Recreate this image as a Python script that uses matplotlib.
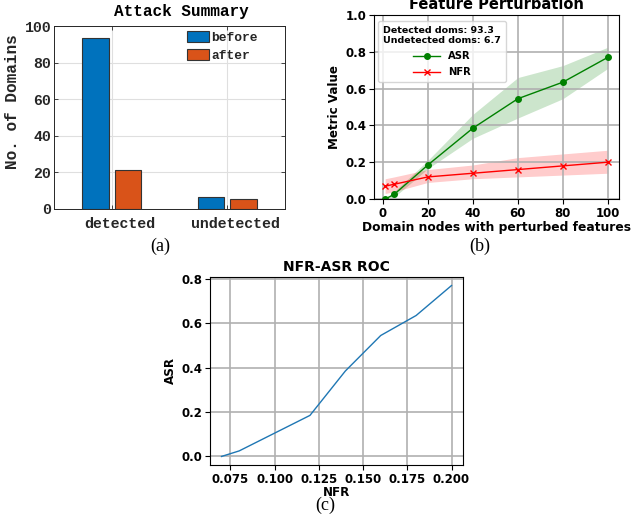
import matplotlib
matplotlib.use("Agg")
import matplotlib.pyplot as plt
import matplotlib.transforms as mtransforms
import numpy as np

# ---------------------------------------------------------------
# Data
# ---------------------------------------------------------------
categories = ["detected", "undetected"]
before_vals = [93.3, 6.7]
after_vals = [21.3, 5.3]

nodes = [1, 5, 20, 40, 60, 80, 100]
asr = [0.0, 0.025, 0.185, 0.385, 0.545, 0.635, 0.77]
asr_lo = [0.0, 0.01, 0.165, 0.33, 0.44, 0.545, 0.71]
asr_hi = [0.0, 0.04, 0.21, 0.46, 0.66, 0.725, 0.825]
nfr = [0.07, 0.08, 0.12, 0.14, 0.16, 0.18, 0.20]
nfr_lo = [0.03, 0.04, 0.09, 0.11, 0.12, 0.13, 0.14]
nfr_hi = [0.11, 0.12, 0.16, 0.185, 0.225, 0.245, 0.265]

fig = plt.figure(figsize=(6.31, 5.27), dpi=100)
W, H = 631, 527


def px_axes(l, t, r, b):
    return fig.add_axes([l / W, 1 - b / H, (r - l) / W, (b - t) / H])


# ---------------------------------------------------------------
# (a) Attack summary -- MATLAB-ish look
# ---------------------------------------------------------------
mono = "Liberation Mono"
dark = "#262626"
ax1 = px_axes(54, 26, 285, 209)
x = np.arange(1, len(categories) + 1)
ax1.bar(x - 0.14, before_vals, width=0.23, color="#0072BD", edgecolor="#333333",
        linewidth=0.8, label="before", zorder=3)
ax1.bar(x + 0.14, after_vals, width=0.23, color="#D95319", edgecolor="#333333",
        linewidth=0.8, label="after", zorder=3)
ax1.set_xlim(0.5, 2.5)
ax1.set_ylim(0, 100)
ax1.set_xticks(x)
ax1.set_xticklabels(categories)
ax1.set_yticks(range(0, 101, 20))
ax1.grid(True, color="#dfdfdf", linewidth=0.8, zorder=0)
ax1.set_axisbelow(True)
ax1.tick_params(direction="in", length=3, width=0.6, color=dark, labelcolor=dark,
                top=True, right=True)
ax1.tick_params(axis="y", pad=2)
ax1.tick_params(axis="x", pad=6)
shift = mtransforms.ScaledTranslation(8 / 100, 0, fig.dpi_scale_trans)
for lab in ax1.get_xticklabels():
    lab.set_transform(lab.get_transform() + shift)
for lab in ax1.get_xticklabels() + ax1.get_yticklabels():
    lab.set_fontfamily(mono)
    lab.set_fontweight("bold")
    lab.set_fontsize(10.7)
for s in ax1.spines.values():
    s.set_linewidth(0.7)
    s.set_color(dark)
ax1.set_ylabel("No. of Domains", family=mono, weight="bold", fontsize=11.5,
               color=dark)
ax1.yaxis.set_label_coords(-34 / 231, 0.587)
ax1.text(0.55, 1.04, "Attack Summary", transform=ax1.transAxes, ha="center",
         va="bottom", family=mono, weight="bold", fontsize=11.5, color="black")
leg1 = ax1.legend(loc="upper left", bbox_to_anchor=(187 / W, 1 - 31 / H),
                  bbox_transform=fig.transFigure, frameon=False,
                  prop={"family": mono, "weight": "bold", "size": 9.3},
                  handlelength=1.7, handleheight=0.95, handletextpad=0.15,
                  borderpad=0, labelspacing=0.35, borderaxespad=0)
for t in leg1.get_texts():
    t.set_color(dark)

# ---------------------------------------------------------------
# (b) Feature perturbation
# ---------------------------------------------------------------
ax2 = px_axes(374, 15, 619, 199)
ax2.fill_between(nodes, asr_lo, asr_hi, color="green", alpha=0.2, linewidth=0)
ax2.fill_between(nodes, nfr_lo, nfr_hi, color="red", alpha=0.2, linewidth=0)
ax2.plot(nodes, asr, color="green", marker="o", markersize=4, linewidth=1, label="ASR")
ax2.plot(nodes, nfr, color="red", marker="x", markersize=4, linewidth=1, label="NFR")
ax2.set_ylim(0, 1.0)
ax2.set_xticks([0, 20, 40, 60, 80, 100])
ax2.set_yticks([0, 0.2, 0.4, 0.6, 0.8, 1.0])
ax2.grid(True, color="#b0b0b0", linewidth=1.2)
ax2.tick_params(labelsize=8.5, pad=2)
for lab in ax2.get_xticklabels() + ax2.get_yticklabels():
    lab.set_fontweight("bold")
ax2.set_xlabel("Domain nodes with perturbed features", fontsize=8.8,
               weight="bold", labelpad=1)
ax2.set_ylabel("Metric Value", fontsize=8.6, weight="bold", labelpad=3)
ax2.set_title("Feature Perturbation", fontsize=10.5, weight="bold", pad=4)
leg2 = ax2.legend(loc="upper left", bbox_to_anchor=(378 / W, 1 - 21 / H),
                  bbox_transform=fig.transFigure, borderaxespad=0,
                  prop={"weight": "bold", "size": 7.2},
                  handlelength=2.7, framealpha=0.8, borderpad=0.5,
                  labelspacing=0.6)
leg2.set_title("Detected doms: 93.3\nUndetected doms: 6.7",
               prop={"weight": "bold", "size": 6.8})

# ---------------------------------------------------------------
# (c) NFR-ASR ROC
# ---------------------------------------------------------------
ax3 = px_axes(210, 277, 463, 465)
ax3.plot(nfr, asr, color="tab:blue", linewidth=1)
ax3.set_xticks([0.075, 0.100, 0.125, 0.150, 0.175, 0.200])
ax3.set_yticks([0.0, 0.2, 0.4, 0.6, 0.8])
ax3.grid(True, color="#b0b0b0", linewidth=1.2)
ax3.tick_params(labelsize=8.5, pad=2)
for lab in ax3.get_xticklabels() + ax3.get_yticklabels():
    lab.set_fontweight("bold")
ax3.set_xlabel("NFR", fontsize=8.6, weight="bold", labelpad=0)
ax3.set_ylabel("ASR", fontsize=8.6, weight="bold", labelpad=3)
ax3.set_title("NFR-ASR ROC", fontsize=10, weight="bold", pad=4)

# ---------------------------------------------------------------
# captions
# ---------------------------------------------------------------
serif = "Liberation Serif"
fig.text(160 / W, 1 - 246 / H, "(a)", ha="center", va="center", family=serif, fontsize=13)
fig.text(480 / W, 1 - 246 / H, "(b)", ha="center", va="center", family=serif, fontsize=13)
fig.text(325 / W, 1 - 505 / H, "(c)", ha="center", va="center", family=serif, fontsize=13)

fig.savefig("out.png", dpi=100)
